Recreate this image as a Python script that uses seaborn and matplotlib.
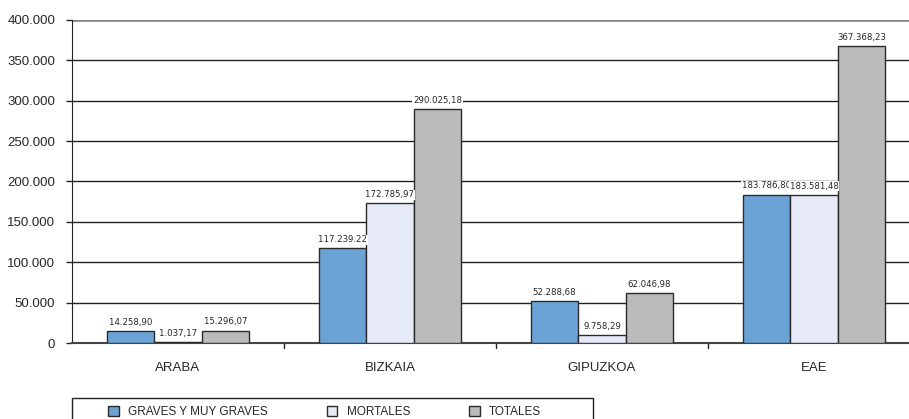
import pandas as pd
import seaborn as sns
import matplotlib.pyplot as plt
from matplotlib.patches import Rectangle
from matplotlib import font_manager

zonas = ["ARABA", "BIZKAIA", "GIPUZKOA", "EAE"]
series = ["GRAVES Y MUY GRAVES", "MORTALES", "TOTALES"]

graves = [14258.90, 117239.22, 52288.68, 183786.80]
mortales = [1037.17, 172785.97, 9758.29, 183581.48]
totales = [15296.07, 290025.18, 62046.98, 367368.23]

etiquetas_graves = ["14.258,90", "117.239.22", "52.288,68", "183.786,80"]
etiquetas_mortales = ["1.037,17", "172.785,97", "9.758,29", "183.581,48"]
etiquetas_totales = ["15.296,07", "290.025,18", "62.046,98", "367.368,23"]

y_ticks = [0, 50000, 100000, 150000, 200000, 250000, 300000, 350000, 400000]
y_labels = ["0", "50.000", "100.000", "150.000", "200.000", "250.000", "300.000", "350.000", "400.000"]

tabela = pd.DataFrame({
    "zona": zonas * 3,
    "serie": [series[0]] * 4 + [series[1]] * 4 + [series[2]] * 4,
    "valor": graves + mortales + totales,
})

sns.set_style("white")
plt.rcParams["font.family"] = ["Liberation Sans", "DejaVu Sans"]

fig = plt.figure(figsize=(9.09, 4.19), dpi=100)
ax = fig.add_axes([72 / 909, 1 - 343 / 419, 848 / 909, 323 / 419])

cores = ["#6CA3D6", "#E6EAF6", "#BBBBBB"]
sns.barplot(data=tabela, x="zona", y="valor", hue="serie", order=zonas, hue_order=series,
            palette=cores, width=0.67, edgecolor="#2a2a2a", linewidth=1.0, saturation=1,
            ax=ax, zorder=3, legend=True)

ax.set_xlim(-0.5, 3.5)
ax.set_ylim(0, 400000)
ax.set_yticks(y_ticks)
ax.set_yticklabels(y_labels, fontsize=9.5)
ax.set_xlabel("")
ax.set_ylabel("")
ax.tick_params(axis="x", labelsize=9.5, pad=14, length=0)
ax.tick_params(axis="y", length=4, width=1, color="#222", pad=8, left=True)

# grid lines
for v in y_ticks[1:-1]:
    ax.axhline(v, color="#222222", linewidth=1.0, zorder=1)
ax.axhline(400000, color="#888888", linewidth=2.0, zorder=1)

# category separators on the bottom
for x in [0.5, 1.5, 2.5]:
    ax.plot([x, x], [0, -6000], color="#222", linewidth=1, clip_on=False)

for s in ["top", "right"]:
    ax.spines[s].set_visible(False)
ax.spines["left"].set_color("#222")
ax.spines["bottom"].set_color("#444")
ax.spines["bottom"].set_linewidth(1.5)

# condensed font for the value labels
fp_label = font_manager.FontProperties(family="DejaVu Sans", stretch="condensed", size=6.8)
for cont, labs in zip(ax.containers, [etiquetas_graves, etiquetas_mortales, etiquetas_totales]):
    txts = ax.bar_label(cont, labels=labs, padding=3, fontproperties=fp_label, zorder=4)
    for t in txts:
        t.set_bbox(dict(facecolor="white", edgecolor="none", pad=0.5))

handles, labels = ax.get_legend_handles_labels()
ax.legend_.remove()
for h in handles:
    h.set_edgecolor("#2a2a2a")
leg = fig.legend(handles, labels, loc="center left",
                 bbox_to_anchor=(108 / 909, 1 - 412 / 419),
                 ncol=3, fontsize=8.5, frameon=False,
                 handlelength=0.9, handleheight=0.9, handletextpad=0.8,
                 columnspacing=5.0, borderpad=0, borderaxespad=0)

fig.patches.append(Rectangle((72 / 909, -0.05), 521 / 909, 0.05 + 21 / 419,
                             transform=fig.transFigure, fill=False,
                             edgecolor="#222", linewidth=1.0))

fig.savefig("out.png", dpi=100)
